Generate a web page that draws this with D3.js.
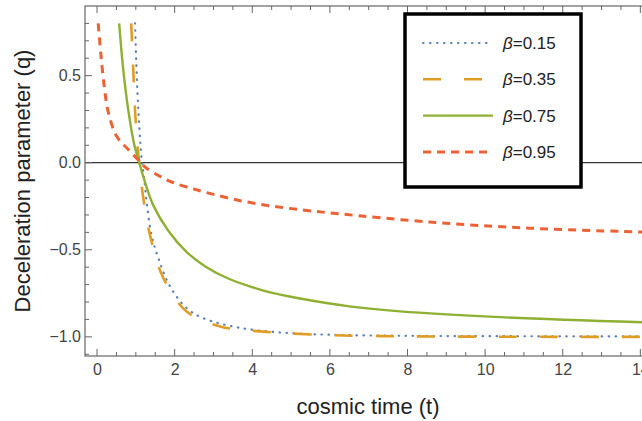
<!DOCTYPE html>
<html>
<head>
<meta charset="utf-8">
<script src="https://cdn.jsdelivr.net/npm/d3@7"></script>
<style>
  body { margin: 0; background: #fff; }
  svg { display: block; font-family: "Liberation Sans", Arial, sans-serif; }
</style>
</head>
<body>
<div id="chart-container"></div>
<script>
// values (t, q)
const tBeta015 = [0.98, 1.02, 1.07, 1.12, 1.16, 1.21, 1.28, 1.41, 1.6, 1.88, 2.31, 2.74, 3.6, 4.72, 6, 8, 10, 12, 14.3]
const qBeta015 = [0.8, 0.52, 0.28, 0.10, 0.0, -0.08, -0.23, -0.42, -0.56, -0.71, -0.835, -0.893, -0.945, -0.975, -0.988, -0.994, -0.996, -0.997, -0.998]

const tBeta035 = [0.88, 0.93, 0.98, 1.04, 1.09, 1.18, 1.37, 1.71, 2.31, 3.17, 4.29, 6, 8, 10, 12, 14.3]
const qBeta035 = [0.8, 0.55, 0.30, 0.10, 0.0, -0.184, -0.42, -0.663, -0.855, -0.94, -0.97, -0.99, -0.997, -0.999, -1.0, -1.0]

const tBeta075 = [0.57, 0.68, 0.81, 0.96, 1.09, 1.19, 1.45, 1.84, 2.31, 2.8, 3.38, 4.0, 4.46, 5.23, 6.5, 7.81, 10.39, 14.3]
const qBeta075 = [0.8, 0.525, 0.295, 0.103, 0.0, -0.079, -0.245, -0.392, -0.513, -0.597, -0.665, -0.715, -0.745, -0.780, -0.825, -0.854, -0.887, -0.918]

const tBeta095 = [0.03, 0.10, 0.19, 0.29, 0.51, 0.81, 1.09, 1.24, 1.62, 1.97, 2.48, 2.83, 3.69, 4.54, 5.40, 6.22, 8.58, 11.16, 14.3]
const qBeta095 = [0.8, 0.62, 0.43, 0.29, 0.15, 0.075, 0.01, -0.025, -0.078, -0.115, -0.15, -0.172, -0.218, -0.25, -0.274, -0.293, -0.341, -0.376, -0.40]

const seriesLabels = ['0.15', '0.35', '0.75', '0.95']
const xTickValues = [0, 2, 4, 6, 8, 10, 12, 14]
const yTickValues = [-1.0, -0.5, 0.0, 0.5]

const width = 642
const height = 421

const series = [
    { label: seriesLabels[0], t: tBeta015, q: qBeta015, color: '#5e81b5', dash: '0.5,6.5', width: 2.2, cap: 'round' },
    { label: seriesLabels[1], t: tBeta035, q: qBeta035, color: '#e19c24', dash: '18,23', width: 2.6, cap: 'butt' },
    { label: seriesLabels[2], t: tBeta075, q: qBeta075, color: '#8fb032', dash: null, width: 2.4, cap: 'butt' },
    { label: seriesLabels[3], t: tBeta095, q: qBeta095, color: '#eb6235', dash: '8,6', width: 3, cap: 'butt' }
]

const plot = { left: 85, top: 6, bottom: 356, right: 652 }

const x = d3.scaleLinear().domain([-0.31, 14.3]).range([plot.left, plot.right])
const y = d3.scaleLinear().domain([-1.11, 0.9]).range([plot.bottom, plot.top])

const svg = d3.select('#chart-container')
    .append('svg')
    .attr('width', width)
    .attr('height', height)

svg.append('defs').append('clipPath')
    .attr('id', 'plot-clip')
    .append('rect')
    .attr('x', plot.left)
    .attr('y', plot.top)
    .attr('width', plot.right - plot.left)
    .attr('height', plot.bottom - plot.top)

// zero line
svg.append('line')
    .attr('x1', plot.left).attr('x2', plot.right)
    .attr('y1', y(0)).attr('y2', y(0))
    .attr('stroke', '#000')
    .attr('stroke-width', 1)

// curves
const line = d3.line()
    .x(d => x(d[0]))
    .y(d => y(d[1]))
    .curve(d3.curveCatmullRom.alpha(0.5))

const curves = svg.append('g').attr('clip-path', 'url(#plot-clip)')
series.forEach(s => {
    curves.append('path')
        .datum(s.t.map((t, i) => [t, s.q[i]]))
        .attr('d', line)
        .attr('fill', 'none')
        .attr('stroke', s.color)
        .attr('stroke-width', s.width)
        .attr('stroke-linecap', s.cap)
        .attr('stroke-dasharray', s.dash)
})

// frame with inward ticks
const frameColor = '#666'
const xMinor = d3.range(0, 14.51, 0.5)
const yMinor = d3.range(-11, 9).map(v => v / 10)

const bottomAxis = d3.axisBottom(x).tickValues(xTickValues).tickSize(0).tickPadding(8).tickFormat(d3.format('d'))
const gx = svg.append('g').attr('transform', 'translate(0,' + plot.bottom + ')').call(bottomAxis)
gx.select('.domain').remove()
gx.selectAll('text').attr('font-size', 16).attr('fill', '#444').attr('font-family', '"Liberation Sans", Arial, sans-serif')

const leftAxis = d3.axisLeft(y).tickValues(yTickValues).tickSize(0).tickPadding(4)
    .tickFormat(d => d3.format('.1f')(d).replace('-', '\u2212'))
const gy = svg.append('g').attr('transform', 'translate(' + plot.left + ',0)').call(leftAxis)
gy.select('.domain').remove()
gy.selectAll('text').attr('font-size', 16).attr('fill', '#444').attr('font-family', '"Liberation Sans", Arial, sans-serif')

const ticks = svg.append('g').attr('stroke', frameColor).attr('stroke-width', 1)
xMinor.forEach(v => {
    const len = (v % 2 === 0) ? 7 : 4
    ticks.append('line').attr('x1', x(v)).attr('x2', x(v)).attr('y1', plot.bottom).attr('y2', plot.bottom - len)
    ticks.append('line').attr('x1', x(v)).attr('x2', x(v)).attr('y1', plot.top).attr('y2', plot.top + len)
})
yMinor.forEach(v => {
    const len = (Math.round(v * 10) % 5 === 0) ? 7 : 4
    ticks.append('line').attr('x1', plot.left).attr('x2', plot.left + len).attr('y1', y(v)).attr('y2', y(v))
})

svg.append('rect')
    .attr('x', plot.left)
    .attr('y', plot.top)
    .attr('width', plot.right - plot.left)
    .attr('height', plot.bottom - plot.top)
    .attr('fill', 'none')
    .attr('stroke', frameColor)
    .attr('stroke-width', 1.2)

// axis titles
svg.append('text')
    .attr('x', 368)
    .attr('y', 414)
    .attr('text-anchor', 'middle')
    .attr('font-size', 22)
    .attr('fill', '#222')
    .text('cosmic time (t)')

svg.append('text')
    .attr('transform', 'translate(30,181) rotate(-90)')
    .attr('text-anchor', 'middle')
    .attr('font-size', 22)
    .attr('fill', '#222')
    .text('Deceleration parameter (q)')

// legend
const legend = svg.append('g')
legend.append('rect')
    .attr('x', 405)
    .attr('y', 14)
    .attr('width', 176)
    .attr('height', 173)
    .attr('fill', '#fff')
    .attr('stroke', '#000')
    .attr('stroke-width', 3.5)

series.forEach((s, i) => {
    const ly = 43 + i * 36.3
    legend.append('line')
        .attr('x1', 423).attr('x2', 493)
        .attr('y1', ly).attr('y2', ly)
        .attr('stroke', s.color)
        .attr('stroke-width', s.width)
        .attr('stroke-linecap', s.cap)
        .attr('stroke-dasharray', s.dash)
    const txt = legend.append('text')
        .attr('x', 503)
        .attr('y', ly + 6)
        .attr('font-size', 17)
        .attr('fill', '#222')
    txt.append('tspan').attr('font-style', 'italic').text('\u03b2')
    txt.append('tspan').text('=' + s.label)
})
</script>
</body>
</html>
